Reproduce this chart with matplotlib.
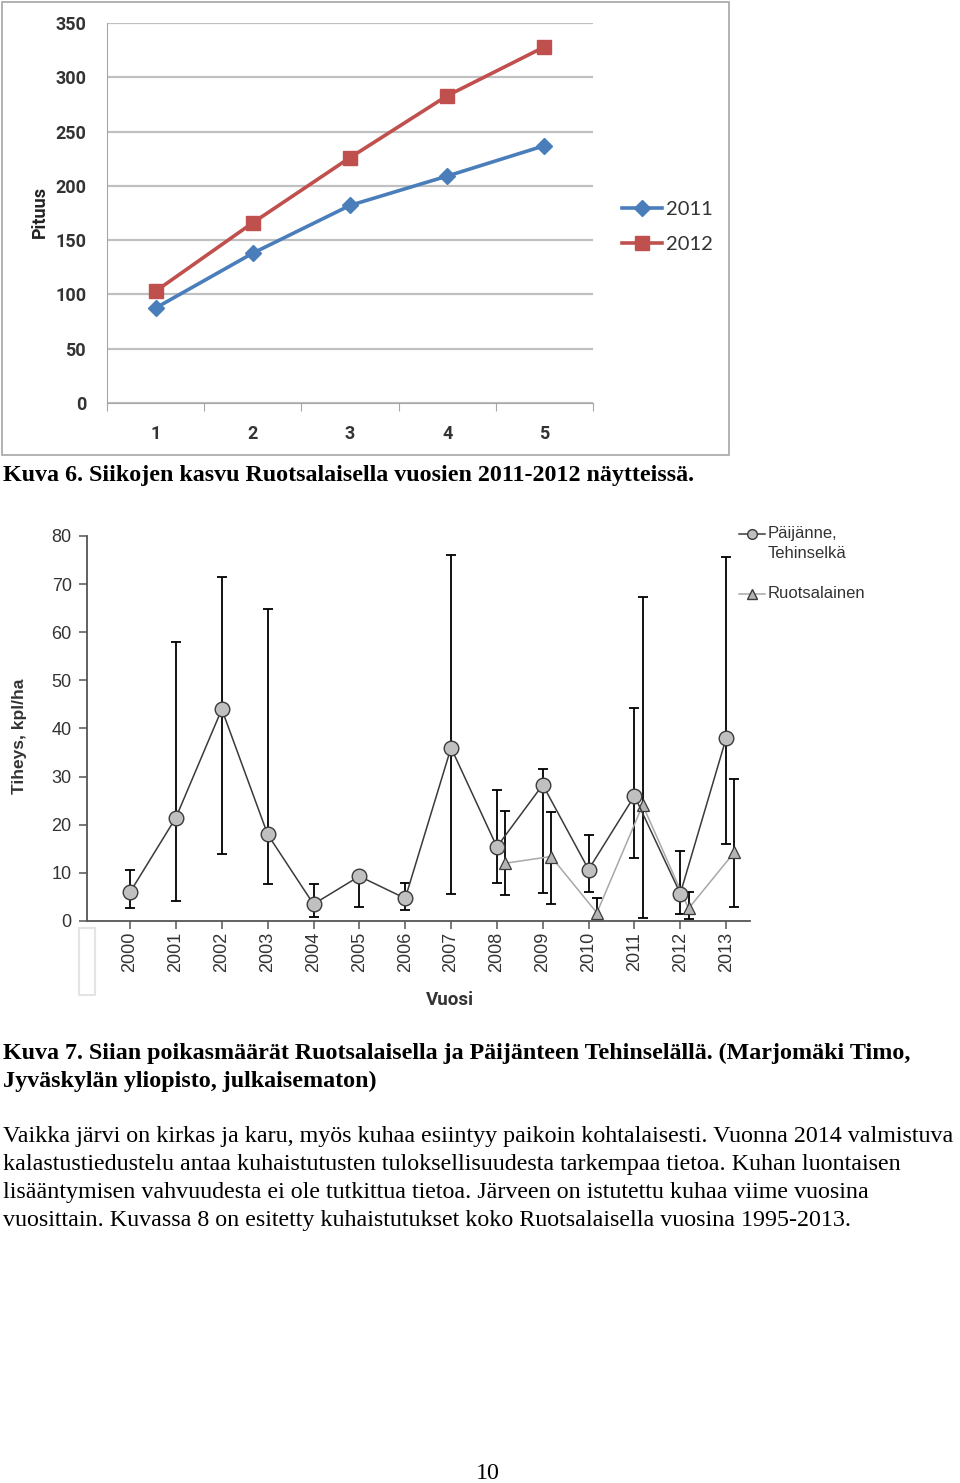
import matplotlib
matplotlib.use("Agg")

import matplotlib.pyplot as plt  # noqa: E402
from matplotlib.lines import Line2D  # noqa: E402
from matplotlib.patches import Rectangle  # noqa: E402
import numpy as np  # noqa: E402

W, H = 960, 1483

# Kuva 6 data
age_groups = ["1", "2", "3", "4", "5"]
length_2011 = [87.5, 138, 182, 209, 237]
length_2012 = [103, 166, 226, 283, 328]

# Kuva 7 data
years = np.arange(2000, 2014)
paij_mean = np.array([6.0, 21.5, 44.0, 18.0, 3.5, 9.3, 4.7, 36.0, 15.4, 28.3, 10.7, 26.0, 5.7, 38.0])
paij_low = np.array([2.7, 4.2, 14.0, 7.6, 0.8, 3.0, 2.3, 5.6, 7.8, 5.9, 6.1, 13.0, 1.4, 16.1])
paij_high = np.array([10.7, 58.0, 71.5, 64.8, 7.6, 9.3, 7.9, 76.0, 27.2, 31.5, 17.9, 44.3, 14.6, 75.6])

ruot_years = np.arange(2008, 2014)
ruot_mean = np.array([12.0, 13.4, 1.7, 24.1, 2.6, 14.3])
ruot_low = np.array([5.4, 3.5, 0.5, 0.7, 0.4, 3.0])
ruot_high = np.array([22.9, 22.6, 4.8, 67.3, 6.1, 29.6])

BLUE = "#4a7ebb"
RED = "#c0504d"
NARROW = ["Roboto", "DejaVu Sans"]
LEG = ["Lato", "DejaVu Sans"]
SANS = ["Liberation Sans", "DejaVu Sans"]
SERIF = ["Liberation Serif", "DejaVu Serif"]
PAGE_PT = 17.3


def px_rect(x0, y0, x1, y1):
    """Pixel box (top-left origin) -> figure fraction rect."""
    return [x0 / W, 1 - y1 / H, (x1 - x0) / W, (y1 - y0) / H]


def fx(x):
    return x / W


def fy(y):
    return 1 - y / H


fig = plt.figure(figsize=(W / 100, H / 100), dpi=100)
fig.patch.set_facecolor("white")

# ---------------- Kuva 6 ----------------
fig.add_artist(Rectangle((fx(2), fy(455)), (729 - 2) / W, (455 - 2) / H,
                         transform=fig.transFigure, fill=False,
                         edgecolor="#a6a6a6", linewidth=1.2))

ax1 = fig.add_axes(px_rect(107, 23, 593, 403))
xpos = np.arange(len(age_groups))
ax1.plot(xpos, length_2011, "-D", color=BLUE, linewidth=2.6, markersize=8, label="2011")
ax1.plot(xpos, length_2012, "-s", color=RED, linewidth=2.6, markersize=9.5, label="2012")
ax1.set_xlim(-0.5, len(age_groups) - 0.5)
ax1.set_ylim(0, 350)
ax1.set_yticks(np.arange(0, 351, 50))
ax1.grid(axis="y", color="#c0c0c0", linewidth=1.6)
ax1.set_axisbelow(True)
for s in ("top", "right"):
    ax1.spines[s].set_visible(False)
ax1.spines["left"].set_color("#a6a6a6")
ax1.spines["bottom"].set_color("#a6a6a6")
ax1.set_xticks(np.arange(-0.5, len(age_groups)), labels=[])
ax1.set_xticks(xpos, labels=age_groups, minor=True)
ax1.tick_params(axis="x", which="major", length=6, color="#a6a6a6", direction="out")
ax1.tick_params(axis="x", which="minor", length=0, pad=16)
ax1.tick_params(axis="y", length=0, pad=15)
for lab in ax1.get_xticklabels(minor=True) + ax1.get_yticklabels():
    lab.set_fontfamily(NARROW)
    lab.set_fontweight("bold")
    lab.set_fontsize(13)
    lab.set_color("#333333")
fig.text(fx(40), fy(212), "Pituus", rotation=90, ha="center", va="center",
         family=NARROW, fontweight="bold", fontsize=13, color="#222222")
fig.legend(handles=ax1.get_lines(), loc="center left",
           bbox_to_anchor=(fx(622), fy(227)), frameon=False,
           borderaxespad=0, borderpad=0,
           prop={"family": LEG, "size": 14.5}, handlelength=2.0,
           handletextpad=0.2, labelspacing=0.9, labelcolor="#333333")

fig.text(fx(3), fy(481), "Kuva 6. Siikojen kasvu Ruotsalaisella vuosien 2011-2012 näytteissä.",
         family=SERIF, fontweight="bold", fontsize=PAGE_PT, va="baseline", ha="left")

# ---------------- Kuva 7 ----------------
ax2 = fig.add_axes(px_rect(87, 536, 750, 921))
ax2.errorbar(years, paij_mean, yerr=[paij_mean - paij_low, paij_high - paij_mean],
             fmt="none", ecolor="black", elinewidth=1.3, capsize=3.5, capthick=1.3, zorder=2)
ax2.plot(years, paij_mean, "-o", color="#3a3a3a", linewidth=1.1, markersize=10.5,
         markerfacecolor="#c0c0c0", markeredgecolor="#3a3a3a", markeredgewidth=1.0, zorder=4)
rx = ruot_years + 0.18
ax2.errorbar(rx, ruot_mean, yerr=[ruot_mean - ruot_low, ruot_high - ruot_mean],
             fmt="none", ecolor="black", elinewidth=1.3, capsize=3.5, capthick=1.3, zorder=2)
ax2.plot(rx, ruot_mean, "-^", color="#a8a8a8", linewidth=1.1, markersize=8.5,
         markerfacecolor="#b4b4b4", markeredgecolor="#3a3a3a", markeredgewidth=0.9, zorder=3)
ax2.set_xlim(1999.06, 2013.52)
ax2.set_ylim(0, 80)
ax2.set_yticks(np.arange(0, 81, 10))
ax2.set_xticks(years, labels=[str(y) for y in years], rotation=90)
for s in ("top", "right"):
    ax2.spines[s].set_visible(False)
for s in ("left", "bottom"):
    ax2.spines[s].set_color("#555555")
    ax2.spines[s].set_linewidth(1.3)
ax2.tick_params(axis="both", length=6, width=1.1, color="#555555", direction="out",
                labelsize=13, labelcolor="#333333")
ax2.tick_params(axis="y", pad=5)
ax2.tick_params(axis="x", pad=2)
for lab in ax2.get_xticklabels() + ax2.get_yticklabels():
    lab.set_fontfamily(SANS)
fig.text(fx(20), fy(736), "Tiheys, kpl/ha", rotation=90, ha="center", va="center",
         family=SANS, fontweight="bold", fontsize=12.5, color="#333333")
fig.text(fx(450), fy(1000), "Vuosi", ha="center", va="center",
         family=NARROW, fontweight="bold", fontsize=13.5, color="#333333")

# faint empty box left of the year labels
fig.add_artist(Rectangle((fx(79), fy(995)), 16 / W, 67 / H, transform=fig.transFigure,
                         fill=False, edgecolor="#e4e4e4", linewidth=1.5))

# legend drawn by hand so the marker sits on the first label line
fig.add_artist(Line2D([fx(739), fx(765)], [fy(534), fy(534)], transform=fig.transFigure,
                      color="#3a3a3a", linewidth=1.1))
fig.add_artist(Line2D([fx(752)], [fy(534)], transform=fig.transFigure, marker="o",
                      markersize=7, markerfacecolor="#c0c0c0", markeredgecolor="#3a3a3a"))
fig.add_artist(Line2D([fx(739), fx(765)], [fy(594), fy(594)], transform=fig.transFigure,
                      color="#a8a8a8", linewidth=1.1))
fig.add_artist(Line2D([fx(752)], [fy(594)], transform=fig.transFigure, marker="^",
                      markersize=6.5, markerfacecolor="#b4b4b4", markeredgecolor="#3a3a3a"))
for yy, txt in [(534, "Päijänne,"), (553, "Tehinselkä"), (593, "Ruotsalainen")]:
    fig.text(fx(768), fy(yy), txt, family=SANS, fontsize=12, color="#333333",
             ha="left", va="center")

# ---------------- page text ----------------
fig.text(fx(3), fy(1059), "Kuva 7. Siian poikasmäärät Ruotsalaisella ja Päijänteen Tehinselällä. "
         "(Marjomäki Timo,", family=SERIF, fontweight="bold", fontsize=PAGE_PT, va="baseline")
fig.text(fx(3), fy(1087), "Jyväskylän yliopisto, julkaisematon)",
         family=SERIF, fontweight="bold", fontsize=PAGE_PT, va="baseline")

body = [
    "Vaikka järvi on kirkas ja karu, myös kuhaa esiintyy paikoin kohtalaisesti. Vuonna 2014 valmistuva",
    "kalastustiedustelu antaa kuhaistutusten tuloksellisuudesta tarkempaa tietoa. Kuhan luontaisen",
    "lisääntymisen vahvuudesta ei ole tutkittua tietoa. Järveen on istutettu kuhaa viime vuosina",
    "vuosittain. Kuvassa 8 on esitetty kuhaistutukset koko Ruotsalaisella vuosina 1995-2013.",
]
for i, line in enumerate(body):
    fig.text(fx(3), fy(1142 + 28 * i), line, family=SERIF, fontsize=PAGE_PT, va="baseline")

fig.text(fx(488), fy(1479), "10", family=SERIF, fontsize=PAGE_PT, ha="center", va="baseline")

fig.savefig("out.png", dpi=100, facecolor="white")
